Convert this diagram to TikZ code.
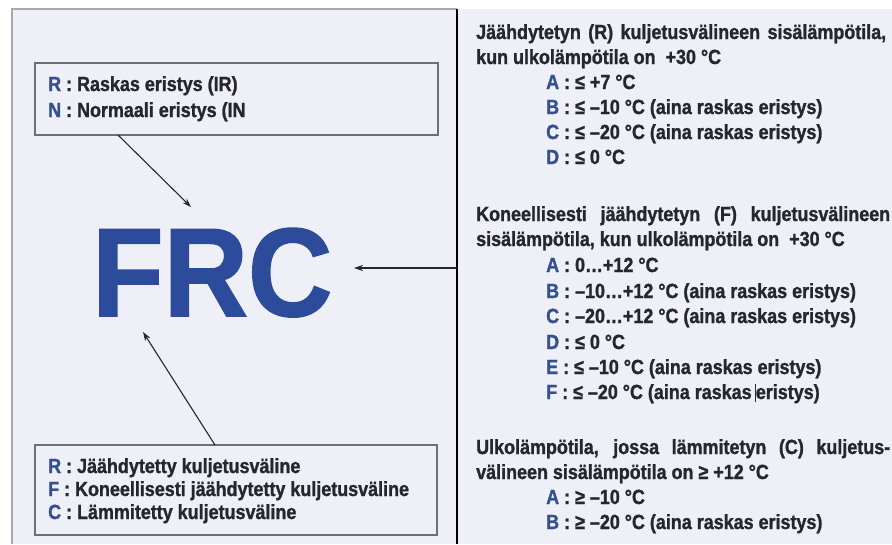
\documentclass[tikz,border=0pt]{standalone}
\usepackage{fontspec}
\setmainfont{Liberation Sans}[FakeStretch=0.875, BoldFeatures={FakeBold=1.2}]
\usetikzlibrary{arrows.meta}
\definecolor{bg}{HTML}{EFEFF7}
\definecolor{edge}{HTML}{A8A8B0}
\definecolor{boxline}{HTML}{6E6E76}
\definecolor{ink}{HTML}{26262E}
\definecolor{lblue}{HTML}{35508F}
\definecolor{frcblue}{HTML}{2C4B9A}
\newcommand{\bl}[1]{\textcolor{lblue}{#1}}
\tikzset{
  txt/.style={anchor=base west, font=\bfseries\fontsize{20.5}{22}\selectfont, text=ink, inner sep=0pt},
  ltxt/.style={anchor=base west, font=\bfseries\fontsize{20.5}{22}\selectfont, text=ink, inner sep=0pt},
  infobox/.style={draw=boxline, line width=1.2pt, fill=bg, inner sep=0pt},
  arr/.style={draw=ink, line width=1.1pt, -{Stealth[length=9pt,width=6pt]}}
}
\begin{document}
\begin{tikzpicture}[x=1pt,y=-1pt]
\useasboundingbox (0,0) rectangle (892,544);
\fill[white] (0,0) rectangle (892,544);
\fill[bg] (12,9) rectangle (892,544);
\draw[edge, line width=1.5pt] (12,544) -- (12,9) -- (457,9);
\draw[black, line width=2pt] (457,9) -- (457,544);
\coordinate (divmid) at (457,268);

% top box
\node[infobox, minimum width=403pt, minimum height=72pt] (topbox) at (236.5,99) {};
\node[ltxt] (t1) at (48,91) {\bl{R} : Raskas eristys (IR)};
\node[ltxt] (t2) at (48,117) {\bl{N} : Normaali eristys (IN};

% bottom box
\node[infobox, minimum width=402pt, minimum height=90pt] (botbox) at (236,490) {};
\node[ltxt] (b1) at (48,473) {\bl{R} : Jäähdytetty kuljetusväline};
\node[ltxt] (b2) at (48,496) {\bl{F} : Koneellisesti jäähdytetty kuljetusväline};
\node[ltxt] (b3) at (48,519) {\bl{C} : Lämmitetty kuljetusväline};

% FRC
\node[anchor=base west, inner sep=0pt, text=frcblue, font=\bfseries\fontsize{126}{126}\selectfont] (frc) at (92,316) {\scalebox{1.06}[1]{FRC}};

% arrows
\coordinate (a1s) at (118,135);
\coordinate (a1e) at (191,207);
\coordinate (a2e) at (354,268);
\coordinate (a3s) at (215,445);
\coordinate (a3e) at (143,332);
\draw[arr] (a1s) -- (a1e);
\draw[arr] (divmid) -- (a2e);
\draw[arr] (a3s) -- (a3e);

% right block 1
\node[txt] (r1) at (476,39) {\makebox[410pt][s]{Jäähdytetyn (R) kuljetusvälineen sisälämpötila,}};
\node[txt] (r2) at (476,64) {kun ulkolämpötila on \ +30 °C};
\node[txt] (r3) at (546,89) {\bl{A} : ≤ +7 °C};
\node[txt] (r4) at (546,114) {\bl{B} : ≤ –10 °C (aina raskas eristys)};
\node[txt] (r5) at (546,139) {\bl{C} : ≤ –20 °C (aina raskas eristys)};
\node[txt] (r6) at (546,164) {\bl{D} : ≤ 0 °C};

% right block 2
\node[txt] (s1) at (476,221) {\makebox[414pt][s]{Koneellisesti jäähdytetyn (F) kuljetusvälineen}};
\node[txt] (s2) at (476,246) {sisälämpötila, kun ulkolämpötila on \ +30 °C};
\node[txt] (s3) at (546,272) {\bl{A} : 0…+12 °C};
\node[txt] (s4) at (546,298) {\bl{B} : –10…+12 °C (aina raskas eristys)};
\node[txt] (s5) at (546,323) {\bl{C} : –20…+12 °C (aina raskas eristys)};
\node[txt] (s6) at (546,349) {\bl{D} : ≤ 0 °C};
\node[txt] (s7) at (546,374) {\bl{E} : ≤ –10 °C (aina raskas eristys)};
\node[txt] (s8) at (546,399) {\bl{F} : ≤ –20 °C (aina raskas\,\rule[-3pt]{0.8pt}{18pt}eristys)};

% right block 3
\node[txt] (u1) at (476,454) {\makebox[414pt][s]{Ulkolämpötila, jossa lämmitetyn (C) kuljetus-}};
\node[txt] (u2) at (476,479) {välineen sisälämpötila on ≥ +12 °C};
\node[txt] (u3) at (546,504) {\bl{A} : ≥ –10 °C};
\node[txt] (u4) at (546,529) {\bl{B} : ≥ –20 °C (aina raskas eristys)};
\end{tikzpicture}
\end{document}
